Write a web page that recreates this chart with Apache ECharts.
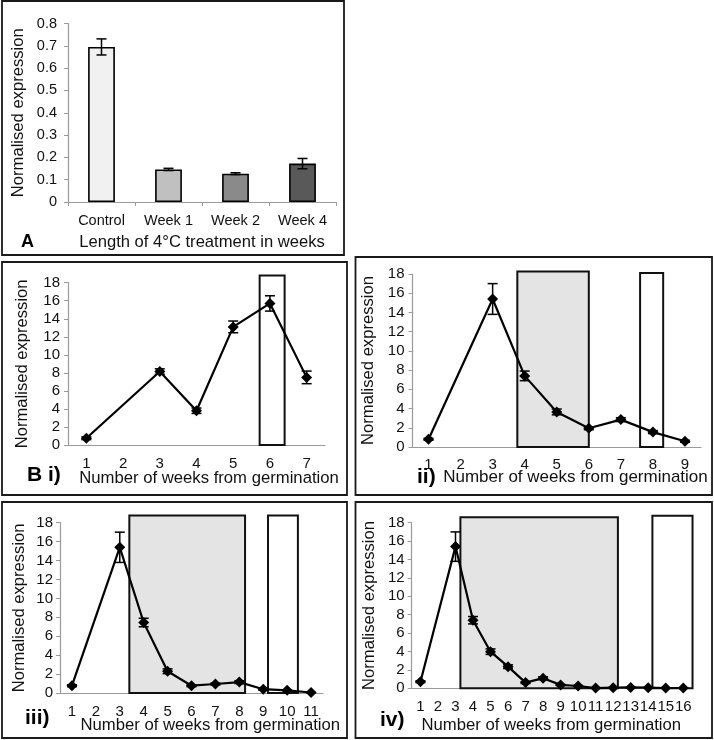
<!DOCTYPE html>
<html><head><meta charset="utf-8">
<script src="https://cdn.jsdelivr.net/npm/echarts@6/dist/echarts.min.js"></script>
<style>html,body{margin:0;padding:0;background:#fff}#c{width:714px;height:740px}</style>
</head><body><div id="c"></div>
<script>
// ---- Panel A data ----
const treatments = ['Control', 'Week 1', 'Week 2', 'Week 4'];
const treatmentValues = [0.695, 0.146, 0.127, 0.172];
const treatmentErrors = [0.036, 0.005, 0.004, 0.023];
const treatmentColors = ['#f1f1f1', '#c0c0c0', '#8a8a8a', '#595959'];
const ticksA = [0, 0.8, 0.1];

// ---- Panel B data ----
const ticksB = [0, 18, 2];
const weekLabelsI = [1, 2, 3, 4, 5, 6, 7];
const weeksI = [1, 3, 4, 5, 6, 7];
const valuesI = [0.75, 8.15, 3.8, 13.1, 15.7, 7.5];
const errorsI = [0.15, 0.3, 0.3, 0.65, 0.85, 0.7];
const shadedI = [];
const openI = [[5.72, 6.4, 18.8]];

const weekLabelsII = [1, 2, 3, 4, 5, 6, 7, 8, 9];
const weeksII = [1, 3, 4, 5, 6, 7, 8, 9];
const valuesII = [0.8, 15.4, 7.4, 3.65, 1.95, 2.85, 1.55, 0.6];
const errorsII = [0.1, 1.6, 0.5, 0.3, 0.15, 0.2, 0.15, 0.1];
const shadedII = [[3.77, 6.0, 18.25]];
const openII = [[7.6, 8.32, 18.1]];

const weekLabelsIII = [1, 2, 3, 4, 5, 6, 7, 8, 9, 10, 11];
const weeksIII = [1, 3, 4, 5, 6, 7, 8, 9, 10, 11];
const valuesIII = [0.77, 15.4, 7.45, 2.3, 0.77, 0.95, 1.15, 0.4, 0.28, 0.05];
const errorsIII = [0.1, 1.6, 0.45, 0.25, 0.1, 0.1, 0.15, 0.1, 0.05, 0.02];
const shadedIII = [[3.4, 8.24, 18.75]];
const openIII = [[9.2, 10.45, 18.75]];

const weekLabelsIV = [1, 2, 3, 4, 5, 6, 7, 8, 9, 10, 11, 12, 13, 14, 15, 16];
const weeksIV = [1, 3, 4, 5, 6, 7, 8, 9, 10, 11, 12, 13, 14, 15, 16];
const valuesIV = [0.72, 15.4, 7.4, 3.98, 2.35, 0.62, 1.1, 0.37, 0.25, 0.02, 0.07, 0.1, 0.07, 0.03, 0.03];
const errorsIV = [0.1, 1.6, 0.4, 0.3, 0.2, 0.1, 0.15, 0.05, 0.05, 0.02, 0.02, 0.02, 0.02, 0.02, 0.02];
const shadedIV = [[3.28, 12.27, 18.6]];
const openIV = [[14.24, 16.53, 18.75]];

const xTitleA = 'Length of 4°C treatment in weeks';
const xTitleB = 'Number of weeks from germination';
const yTitle = 'Normalised expression';

// ---- styles ----
const FONT = '"Liberation Sans", Arial, sans-serif';
const AXIS_GRAY = '#9a9a9a';

const chart = echarts.init(document.getElementById('c'), null, {renderer: 'canvas'});

function errorRender(params, api) {
  const x = api.value(0), y = api.value(1), e = api.value(2);
  const t = api.coord([x, y + e]), b = api.coord([x, y - e]);
  const hw = 5;
  const st = {stroke: '#000', lineWidth: 1.5};
  return {type: 'group', children: [
    {type: 'line', shape: {x1: t[0], y1: t[1], x2: b[0], y2: b[1]}, style: st},
    {type: 'line', shape: {x1: t[0] - hw, y1: t[1], x2: t[0] + hw, y2: t[1]}, style: st},
    {type: 'line', shape: {x1: b[0] - hw, y1: b[1], x2: b[0] + hw, y2: b[1]}, style: st}
  ]};
}
function boxRender(fill) {
  return function (params, api) {
    const p0 = api.coord([api.value(0), api.value(2)]);
    const p1 = api.coord([api.value(1), 0]);
    return {type: 'rect', shape: {x: p0[0], y: p0[1], width: p1[0] - p0[0], height: p1[1] - p0[1]},
      style: {fill: fill, stroke: '#111', lineWidth: 2}};
  };
}

const grids = [
  {left: 68, top: 23.5, width: 268, height: 178.5},
  {left: 68, top: 282.7, width: 257, height: 162.3},
  {left: 412.5, top: 274, width: 288.5, height: 173},
  {left: 60, top: 522.7, width: 263, height: 170.3},
  {left: 411.7, top: 522.7, width: 280.3, height: 165.6}
];

const xAxes = [], yAxes = [], series = [];

function yAxisDef(gi, ticks, nameGap, labelMargin, fs) {
  return {
    type: 'value', gridIndex: gi, min: ticks[0], max: ticks[1], interval: ticks[2],
    name: yTitle, nameLocation: 'middle', nameGap: nameGap,
    nameTextStyle: {fontFamily: FONT, fontSize: 16.6, color: '#111'},
    axisLine: {show: true, lineStyle: {color: AXIS_GRAY, width: 1.2}},
    axisTick: {show: true, length: 4, lineStyle: {color: AXIS_GRAY}},
    axisLabel: {fontFamily: FONT, fontSize: fs, color: '#111', margin: labelMargin},
    splitLine: {show: false}
  };
}

// Panel A
xAxes.push({
  type: 'category', gridIndex: 0, data: treatments, boundaryGap: true,
  name: xTitleA, nameLocation: 'middle', nameGap: 32,
  nameTextStyle: {fontFamily: FONT, fontSize: 16.6, color: '#111'},
  axisLine: {lineStyle: {color: AXIS_GRAY, width: 1.2}},
  axisTick: {show: true, length: 4, alignWithLabel: false, lineStyle: {color: AXIS_GRAY}},
  axisLabel: {fontFamily: FONT, fontSize: 14.5, color: '#111', margin: 11}
});
yAxes.push(yAxisDef(0, ticksA, 41, 11, 14.5));
series.push({
  type: 'bar', xAxisIndex: 0, yAxisIndex: 0, barWidth: '40%',
  data: treatmentValues.map((v, i) => ({value: v, itemStyle: {color: treatmentColors[i], borderColor: '#000', borderWidth: 1.6}}))
});
series.push({
  type: 'custom', xAxisIndex: 0, yAxisIndex: 0, renderItem: errorRender, z: 5,
  data: treatmentValues.map((v, i) => [i, v, treatmentErrors[i]])
});

// Panels B
const panels = [
  {labels: weekLabelsI, weeks: weeksI, values: valuesI, errors: errorsI, shaded: shadedI, open: openI, yGap: 37, ym: 8, xm: 11},
  {labels: weekLabelsII, weeks: weeksII, values: valuesII, errors: errorsII, shaded: shadedII, open: openII, yGap: 35.5, ym: 8, xm: 10},
  {labels: weekLabelsIII, weeks: weeksIII, values: valuesIII, errors: errorsIII, shaded: shadedIII, open: openIII, yGap: 32.5, ym: 7, xm: 11},
  {labels: weekLabelsIV, weeks: weeksIV, values: valuesIV, errors: errorsIV, shaded: shadedIV, open: openIV, yGap: 33.5, ym: 7, xm: 11}
];
panels.forEach((p, k) => {
  const gi = k + 1;
  const n = p.labels.length;
  xAxes.push({
    type: 'value', gridIndex: gi, min: p.labels[0] - 0.5, max: p.labels[n - 1] + 0.5,
    axisLine: {show: true, onZero: false, lineStyle: {color: AXIS_GRAY, width: 1.2}},
    axisTick: {show: false},
    axisLabel: {fontFamily: FONT, fontSize: 15, color: '#111', margin: p.xm, customValues: p.labels, showMinLabel: true, showMaxLabel: true},
    splitLine: {show: false}
  });
  yAxes.push(yAxisDef(gi, ticksB, p.yGap, p.ym, 15));
  series.push({
    type: 'custom', xAxisIndex: gi, yAxisIndex: gi, renderItem: boxRender('#e4e4e4'), clip: false, z: 1,
    data: p.shaded
  });
  series.push({
    type: 'custom', xAxisIndex: gi, yAxisIndex: gi, renderItem: boxRender('#ffffff'), clip: false, z: 1,
    data: p.open
  });
  series.push({
    type: 'line', xAxisIndex: gi, yAxisIndex: gi, z: 3,
    data: p.weeks.map((w, i) => [w, p.values[i]]),
    symbol: 'diamond', symbolSize: 11, showAllSymbol: true,
    itemStyle: {color: '#000'}, lineStyle: {color: '#000', width: 2.2}
  });
  series.push({
    type: 'custom', xAxisIndex: gi, yAxisIndex: gi, renderItem: errorRender, z: 4,
    data: p.weeks.map((w, i) => [w, p.values[i], p.errors[i]])
  });
});

const frame = {stroke: '#1a1a1a', lineWidth: 1.8, fill: 'none'};
function titleText(x, y, size) {
  return {type: 'text', x: x, y: y, silent: true,
    style: {text: xTitleB, font: size + 'px ' + FONT, fill: '#111', align: 'center', verticalAlign: 'middle'}};
}
const graphic = [
  {type: 'rect', shape: {x: 2, y: 1, width: 342, height: 254}, style: frame, silent: true},
  {type: 'rect', shape: {x: 2, y: 262, width: 345, height: 233}, style: frame, silent: true},
  {type: 'rect', shape: {x: 355.5, y: 257, width: 356.5, height: 238}, style: frame, silent: true},
  {type: 'rect', shape: {x: 2, y: 502, width: 345, height: 236}, style: frame, silent: true},
  {type: 'rect', shape: {x: 355.5, y: 502, width: 356.5, height: 236}, style: frame, silent: true},
  {type: 'text', left: 21, top: 233, style: {text: 'A', font: 'bold 18px ' + FONT, fill: '#000'}},
  {type: 'text', left: 27, top: 465, style: {text: 'B i)', font: 'bold 21px ' + FONT, fill: '#000'}},
  {type: 'text', left: 417, top: 467, style: {text: 'ii)', font: 'bold 21px ' + FONT, fill: '#000'}},
  {type: 'text', left: 25, top: 708, style: {text: 'iii)', font: 'bold 21px ' + FONT, fill: '#000'}},
  {type: 'text', left: 380, top: 710, style: {text: 'iv)', font: 'bold 21px ' + FONT, fill: '#000'}},
  titleText(209, 478, 16.7),
  titleText(575.5, 477, 17),
  titleText(210.3, 725, 16.7),
  titleText(551.3, 725, 16.7)
];

chart.setOption({
  animation: false,
  backgroundColor: '#fff',
  textStyle: {fontFamily: FONT},
  grid: grids,
  xAxis: xAxes,
  yAxis: yAxes,
  series: series,
  graphic: graphic
});
</script>
</body></html>
